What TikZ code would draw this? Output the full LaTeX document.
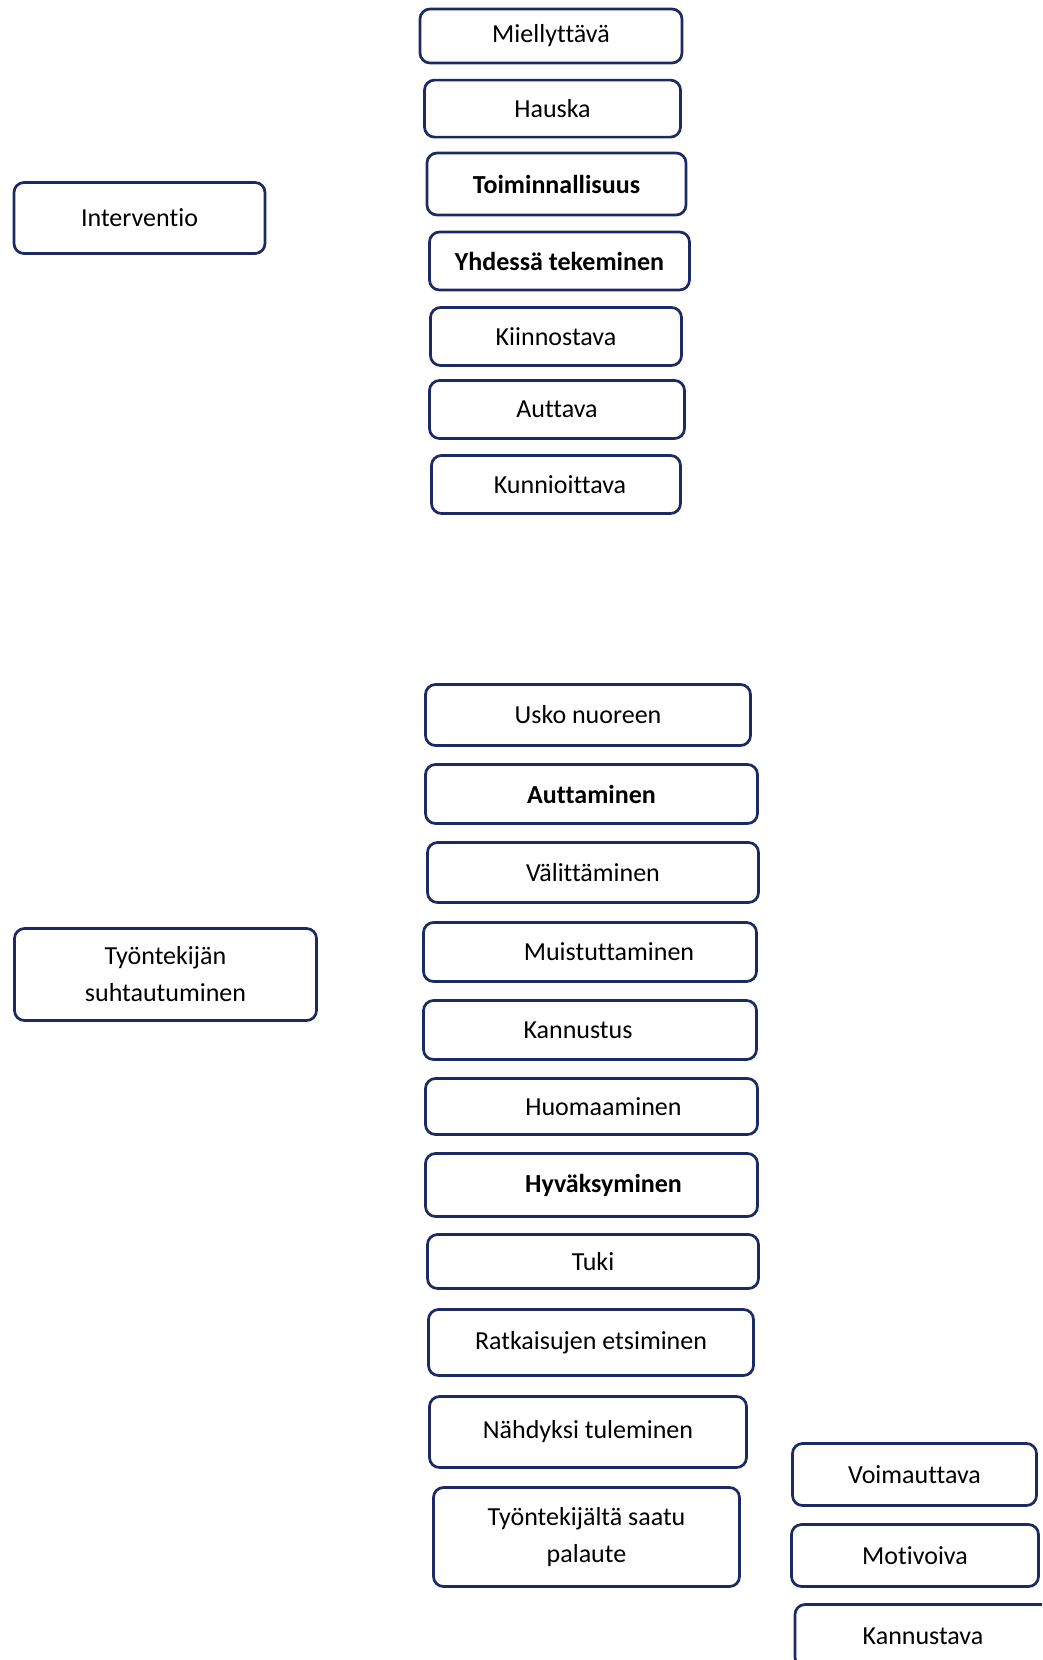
\documentclass[tikz,border=0pt]{standalone}
\usepackage{fontspec}
\setmainfont{Carlito}[Ligatures=NoCommon]
\definecolor{navy}{RGB}{27,42,100}
\begin{document}
\begin{tikzpicture}[x=1pt,y=-1pt,
  box/.style={draw=navy, line width=2.7pt, rounded corners=10pt, fill=white,
    inner sep=0pt, align=center, font=\fontsize{26}{37}\selectfont},
  bbox/.style={box, font=\fontsize{26}{37}\selectfont\bfseries}]
\useasboundingbox (0,0) rectangle (1042,1660);
\clip (0,0) rectangle (1042,1660);
% upper group
\node[box, minimum width=262pt, minimum height=54pt] (miel) at (551,36) {\raisebox{-2pt}{Miellyttävä}};
\node[box, minimum width=256pt, minimum height=57pt] (hauska) at (552.5,108.6) {Hauska};
\node[bbox, minimum width=259pt, minimum height=62pt] (toim) at (556.5,184) {Toiminnallisuus};
\node[bbox, minimum width=260pt, minimum height=58pt] (yhd) at (559.5,261) {Yhdessä tekeminen};
\node[box, minimum width=251pt, minimum height=58pt] (kiin) at (556,336.5) {Kiinnostava};
\node[box, minimum width=255pt, minimum height=58pt] (autt) at (557,409.5) {Auttava};
\node[box, minimum width=249pt, minimum height=58pt] (kunn) at (556,484.5) {\hspace*{8pt}Kunnioittava};
\node[box, minimum width=251pt, minimum height=71pt] (interv) at (139.5,218) {Interventio};
% lower group
\node[box, minimum width=325pt, minimum height=61pt] (usko) at (588,715) {Usko nuoreen};
\node[bbox, minimum width=332pt, minimum height=59pt] (autm) at (591.5,794) {Auttaminen};
\node[box, minimum width=331pt, minimum height=60pt] (valit) at (593,872.5) {Välittäminen};
\node[box, minimum width=333pt, minimum height=59pt] (muist) at (590,952) {\hspace*{38pt}Muistuttaminen};
\node[box, minimum width=333pt, minimum height=59pt] (kann) at (590,1030) {\hspace*{-24pt}Kannustus};
\node[box, minimum width=332pt, minimum height=56pt] (huom) at (591.5,1106.5) {\hspace*{24pt}Huomaaminen};
\node[bbox, minimum width=332pt, minimum height=63pt] (hyv) at (591.5,1185) {\hspace*{24pt}Hyväksyminen};
\node[box, minimum width=331pt, minimum height=54pt] (tuki) at (593,1261.5) {Tuki};
\node[box, minimum width=325pt, minimum height=66pt] (ratk) at (591,1342.5) {Ratkaisujen etsiminen};
\node[box, minimum width=317pt, minimum height=71pt] (nahd) at (588,1432) {Nähdyksi tuleminen};
\node[box, minimum width=306pt, minimum height=99pt] (pal) at (586.5,1537) {Työntekijältä saatu\\palaute};
\node[box, minimum width=244pt, minimum height=62pt] (voim) at (914.5,1474.5) {Voimauttava};
\node[box, minimum width=247pt, minimum height=62pt] (motiv) at (915,1555.5) {Motivoiva};
\node[box, minimum width=256pt, minimum height=63pt] (kannv) at (923,1636) {Kannustava};
\node[box, minimum width=302pt, minimum height=92pt] (tyont) at (165.5,974.5) {Työntekijän\\suhtautuminen};
\end{tikzpicture}
\end{document}
